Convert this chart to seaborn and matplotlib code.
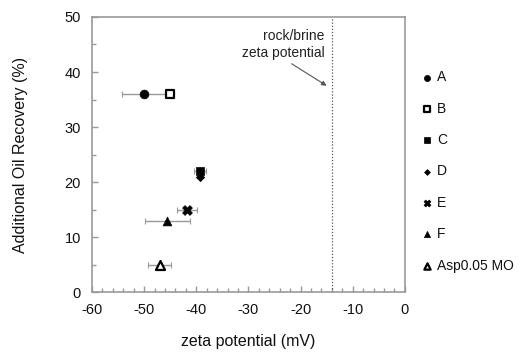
import matplotlib
matplotlib.use("Agg")
import matplotlib.pyplot as plt
import seaborn as sns
import numpy as np
from matplotlib.ticker import MultipleLocator

sns.set_theme(style="white")
plt.rcParams['font.family'] = ['Liberation Sans', 'DejaVu Sans']
plt.rcParams['axes.unicode_minus'] = False

labels = ["A", "B", "C", "D", "E", "F", "Asp0.05 MO"]
zeta = [-50.0, -45.0, -39.3, -39.2, -41.8, -45.6, -47.0]
recovery = [36.0, 36.0, 22.0, 21.0, 15.0, 13.0, 5.0]
zeta_err = [4.2, 0.0, 1.1, 0.0, 1.9, 4.3, 2.2]
markers = ["o", "s", "s", "D", "X", "^", "^"]
filled = [True, False, True, True, True, True, False]
sizes = [40, 38, 38, 18, 50, 40, 42]
rock_brine_zeta = -14.0

fig = plt.figure(figsize=(5.23, 3.54), dpi=100)
ax = fig.add_axes([0.176, 0.175, 0.598, 0.777])

grey = "#999999"
for i in range(len(labels)):
    if zeta_err[i] > 0:
        ax.errorbar(zeta[i], recovery[i], xerr=zeta_err[i], fmt="none",
                    ecolor=grey, elinewidth=1.0, capsize=2, capthick=0.8, zorder=2)

for i in range(len(labels)):
    sns.scatterplot(x=[zeta[i]], y=[recovery[i]], ax=ax, marker=markers[i],
                    s=sizes[i], color="black",
                    facecolor="black" if filled[i] else "white",
                    edgecolor="black", linewidth=1.6 if not filled[i] else 0.5,
                    label=labels[i], zorder=3)

ax.axvline(rock_brine_zeta, color="#555555", linestyle=(0, (1, 1.5)), linewidth=0.9, zorder=1)
ax.annotate("", xy=(-15.0, 37.5), xytext=(-21.7, 41.5),
            arrowprops=dict(arrowstyle="-|>", color="#555555", lw=0.8,
                            mutation_scale=7, shrinkA=0, shrinkB=0))
ax.text(-15.4, 45.0, "rock/brine\nzeta potential", ha="right", va="center",
        fontsize=10, linespacing=1.2, color="#222222")

ax.set_xlim(-60, 0)
ax.set_ylim(0, 50)
ax.xaxis.set_major_locator(MultipleLocator(10))
ax.xaxis.set_minor_locator(MultipleLocator(2))
ax.yaxis.set_major_locator(MultipleLocator(10))
ax.yaxis.set_minor_locator(MultipleLocator(5))
ax.tick_params(which="both", direction="in", color=grey, width=1.0,
               labelsize=10.5, labelcolor="#111111", bottom=True, left=True)
ax.tick_params(which="major", length=4, pad=8)
ax.tick_params(which="minor", length=3)
for side in ["left", "bottom", "right", "top"]:
    ax.spines[side].set_visible(True)
    ax.spines[side].set_color(grey)
    ax.spines[side].set_linewidth(1.2)

ax.set_xlabel("zeta potential (mV)", fontsize=11.5, color="#111111", labelpad=12)
ax.set_ylabel("Additional Oil Recovery (%)", fontsize=11.5, color="#111111", labelpad=26)
ax.grid(False)

handles, labs = ax.get_legend_handles_labels()
leg = ax.legend(handles, labs, loc="upper left", bbox_to_anchor=(0.79, 0.817),
                bbox_transform=fig.transFigure, frameon=False, fontsize=10,
                labelspacing=1.25, handletextpad=0.1, handlelength=1.2,
                markerscale=0.7, borderaxespad=0)
for t in leg.get_texts():
    t.set_color("#111111")

fig.savefig("out.png", dpi=100)
